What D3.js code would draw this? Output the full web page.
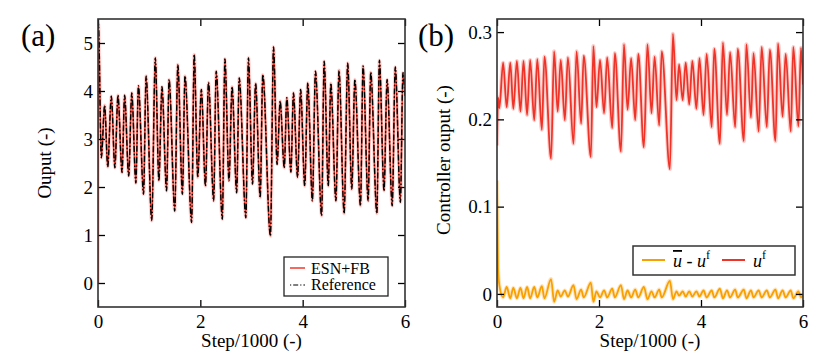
<!DOCTYPE html>
<html><head><meta charset="utf-8">
<script src="https://cdn.jsdelivr.net/npm/d3@7"></script>
<style>
body{margin:0;background:#fff}
svg{display:block}
</style>
</head><body>
<svg id="c" width="830" height="361"></svg>
<script>
// ---------- data ----------
const xTicks = [0, 2, 4, 6];
const yTicksA = [0, 1, 2, 3, 4, 5];
const yTicksB = [0, 0.1, 0.2, 0.3];

// panel (a): time (step/1000) of extrema, ESN+FB output and reference
const outT = [0, 0.008, 0.065, 0.13, 0.19, 0.26, 0.33, 0.39, 0.47, 0.52, 0.60, 0.66, 0.74, 0.79, 0.89, 0.94,
  1.05, 1.12, 1.19, 1.25, 1.34, 1.39, 1.50, 1.56, 1.65, 1.70, 1.83, 1.88, 1.95,
  2.02, 2.10, 2.16, 2.26, 2.31, 2.43, 2.48, 2.56, 2.62, 2.71, 2.76, 2.89, 2.94,
  3.02, 3.08, 3.17, 3.22, 3.37, 3.43, 3.50, 3.56, 3.64, 3.69, 3.77, 3.82, 3.90, 3.96,
  4.04, 4.10, 4.19, 4.25, 4.37, 4.42, 4.50, 4.55, 4.65, 4.71, 4.81, 4.88, 4.96,
  5.02, 5.13, 5.18, 5.28, 5.33, 5.45, 5.50, 5.59, 5.65, 5.75, 5.81, 5.91, 5.96, 6.00];
const esnV = [0, 5.4, 2.61, 3.70, 2.42, 3.89, 2.40, 3.91, 2.30, 3.91, 2.23, 3.96, 2.08, 4.11, 1.85, 4.31,
  1.30, 4.69, 2.13, 4.09, 1.92, 4.24, 1.50, 4.55, 1.85, 4.31, 1.26, 4.76, 2.20,
  4.03, 2.02, 4.18, 1.71, 4.41, 1.33, 4.67, 2.13, 4.09, 1.88, 4.27, 1.36, 4.69,
  2.06, 4.16, 1.78, 4.34, 0.98, 4.92, 2.47, 3.79, 2.40, 3.86, 2.31, 3.96, 2.20, 4.03,
  2.02, 4.17, 1.71, 4.41, 1.40, 4.62, 2.02, 4.16, 1.71, 4.43, 1.45, 4.58, 1.95,
  4.24, 1.61, 4.52, 1.71, 4.39, 1.45, 4.64, 1.92, 4.24, 1.61, 4.50, 1.68, 4.38, 3.90];
const refV = [5.3, 5.4, 2.61, 3.70, 2.42, 3.89, 2.40, 3.91, 2.30, 3.91, 2.23, 3.96, 2.08, 4.11, 1.85, 4.31,
  1.30, 4.69, 2.13, 4.09, 1.92, 4.24, 1.50, 4.55, 1.85, 4.31, 1.26, 4.76, 2.20,
  4.03, 2.02, 4.18, 1.71, 4.41, 1.33, 4.67, 2.13, 4.09, 1.88, 4.27, 1.36, 4.69,
  2.06, 4.16, 1.78, 4.34, 0.98, 4.92, 2.47, 3.79, 2.40, 3.86, 2.31, 3.96, 2.20, 4.03,
  2.02, 4.17, 1.71, 4.41, 1.40, 4.62, 2.02, 4.16, 1.71, 4.43, 1.45, 4.58, 1.95,
  4.24, 1.61, 4.52, 1.71, 4.39, 1.45, 4.64, 1.92, 4.24, 1.61, 4.50, 1.68, 4.38, 3.90];

// panel (b): time of extrema, u^f and (u-bar - u^f)
const ctrlT = [0, 0.02, 0.046, 0.12, 0.19, 0.26, 0.32, 0.39, 0.46, 0.52, 0.59, 0.65, 0.73, 0.79, 0.88, 0.93,
  1.06, 1.12, 1.19, 1.25, 1.33, 1.39, 1.50, 1.56, 1.65, 1.70, 1.84, 1.89, 1.95,
  2.02, 2.10, 2.16, 2.26, 2.31, 2.43, 2.49, 2.56, 2.63, 2.71, 2.77, 2.88, 2.95,
  3.03, 3.09, 3.18, 3.23, 3.39, 3.45, 3.52, 3.57, 3.64, 3.70, 3.77, 3.83, 3.91, 3.97,
  4.05, 4.11, 4.21, 4.26, 4.37, 4.43, 4.51, 4.57, 4.67, 4.72, 4.84, 4.89, 4.98,
  5.03, 5.13, 5.19, 5.29, 5.35, 5.46, 5.51, 5.60, 5.66, 5.76, 5.81, 5.91, 5.96, 6.0];
const ufV = [0.17, 0.225, 0.213, 0.265, 0.214, 0.265, 0.212, 0.267, 0.209, 0.267, 0.205, 0.268, 0.199, 0.269, 0.188, 0.272,
  0.155, 0.278, 0.209, 0.268, 0.199, 0.271, 0.172, 0.278, 0.195, 0.273, 0.157, 0.284, 0.214,
  0.268, 0.207, 0.271, 0.190, 0.276, 0.163, 0.286, 0.211, 0.270, 0.199, 0.275, 0.168, 0.286,
  0.207, 0.272, 0.193, 0.278, 0.143, 0.298, 0.222, 0.263, 0.222, 0.265, 0.217, 0.267, 0.212, 0.270,
  0.205, 0.275, 0.191, 0.281, 0.172, 0.288, 0.205, 0.277, 0.191, 0.281, 0.175, 0.286, 0.202,
  0.276, 0.186, 0.283, 0.191, 0.280, 0.175, 0.287, 0.203, 0.275, 0.186, 0.283, 0.192, 0.282, 0.24];
const diffV = [0.13, 0.03, 0.01, -0.004, 0.008, -0.005, 0.007, -0.005, 0.007, -0.005, 0.008, -0.005, 0.008, -0.004, 0.009, -0.005,
  0.017, -0.009, 0.004, -0.003, 0.004, -0.003, 0.010, -0.006, 0.005, -0.004, 0.013, -0.009, 0.003,
  -0.004, 0.004, -0.004, 0.006, -0.004, 0.010, -0.006, 0.004, -0.004, 0.005, -0.004, 0.008, -0.006,
  0.003, -0.004, 0.005, -0.004, 0.015, -0.006, 0.003, -0.002, 0.003, -0.003, 0.003, -0.003, 0.003, -0.003,
  0.004, -0.004, 0.004, -0.004, 0.006, -0.005, 0.004, -0.004, 0.005, -0.004, 0.005, -0.005, 0.004,
  -0.004, 0.004, -0.004, 0.004, -0.004, 0.005, -0.005, 0.004, -0.004, 0.004, -0.005, 0.003, -0.004, 0.0];

// ---------- drawing ----------
const svg = d3.select('#c');
const FONT = '"Liberation Serif", "Times New Roman", Times, serif';
const TOP = 19, BOTTOM = 307;

function panel(id, left, right, yDomain, yTicks, yFmt) {
  const x = d3.scaleLinear().domain([0, 6]).range([left, right]);
  const y = d3.scaleLinear().domain(yDomain).range([BOTTOM, TOP]);
  const g = svg.append('g');
  g.append('clipPath').attr('id', 'clip' + id).append('rect')
    .attr('x', left).attr('y', TOP).attr('width', right - left).attr('height', BOTTOM - TOP);
  const plot = g.append('g').attr('clip-path', `url(#clip${id})`);

  const ax = (sel) => sel.attr('font-size', 19)
    .call(s => s.select('.domain').remove())
    .call(s => s.selectAll('line').attr('stroke', '#000').attr('stroke-width', 1.3));
  g.append('g').attr('transform', `translate(0,${BOTTOM})`)
    .call(d3.axisBottom(x).tickValues(xTicks).tickSize(-7).tickPadding(8).tickFormat(d3.format('d'))).call(ax);
  g.append('g').attr('transform', `translate(0,${TOP})`)
    .call(d3.axisTop(x).tickValues(xTicks).tickSize(-7).tickFormat('')).call(ax);
  g.append('g').attr('transform', `translate(${left},0)`)
    .call(d3.axisLeft(y).tickValues(yTicks).tickSize(-7).tickPadding(5).tickFormat(yFmt)).call(ax);
  g.append('g').attr('transform', `translate(${right},0)`)
    .call(d3.axisRight(y).tickValues(yTicks).tickSize(-7).tickFormat('')).call(ax);
  return {x, y, g, plot};
}

// Panel (a)
const A = panel('a', 98, 405, [-0.5, 5.5], yTicksA, d3.format('d'));
const lineA = (vals) => d3.line().x((d, i) => A.x(outT[i])).y(d => A.y(d)).curve(d3.curveMonotoneX)(vals);
A.plot.append('path').attr('d', lineA(esnV)).attr('fill', 'none')
  .attr('stroke', 'rgba(255,120,110,0.3)').attr('stroke-width', 3.6);
A.plot.append('path').attr('d', lineA(esnV)).attr('fill', 'none')
  .attr('stroke', '#f0392b').attr('stroke-width', 1.6);
A.plot.append('path').attr('d', lineA(refV)).attr('fill', 'none')
  .attr('stroke', '#000').attr('stroke-width', 1.4).attr('stroke-dasharray', '6,2,1.5,2');

// Panel (b)
const B = panel('b', 497, 803, [-0.015, 0.315], yTicksB, d => d === 0 ? '0' : d3.format('.1f')(d));
const lineB = (vals) => d3.line().x((d, i) => B.x(ctrlT[i])).y(d => B.y(d)).curve(d3.curveMonotoneX)(vals);
B.plot.append('path').attr('d', lineB(ufV)).attr('fill', 'none')
  .attr('stroke', 'rgba(245,90,80,0.3)').attr('stroke-width', 4);
B.plot.append('path').attr('d', lineB(ufV)).attr('fill', 'none')
  .attr('stroke', '#ee3328').attr('stroke-width', 1.8);
B.plot.append('path').attr('d', lineB(diffV)).attr('fill', 'none')
  .attr('stroke', 'rgba(255,175,60,0.35)').attr('stroke-width', 4);
B.plot.append('path').attr('d', lineB(diffV)).attr('fill', 'none')
  .attr('stroke', '#f7a000').attr('stroke-width', 1.8);

// frames
[[98, 405], [497, 803]].forEach(([l, r]) => {
  svg.append('rect').attr('x', l).attr('y', TOP).attr('width', r - l).attr('height', BOTTOM - TOP)
    .attr('fill', 'none').attr('stroke', '#333').attr('stroke-width', 1.6);
});

// axis titles
svg.append('text').attr('x', 251.5).attr('y', 347).attr('text-anchor', 'middle').attr('font-size', 19).text('Step/1000 (-)');
svg.append('text').attr('x', 650).attr('y', 347).attr('text-anchor', 'middle').attr('font-size', 19).text('Step/1000 (-)');
svg.append('text').attr('transform', 'translate(51,163) rotate(-90)').attr('text-anchor', 'middle').attr('font-size', 19).text('Ouput (-)');
svg.append('text').attr('transform', 'translate(450,160) rotate(-90)').attr('text-anchor', 'middle').attr('font-size', 19).text('Controller ouput (-)');

// panel letters
svg.append('text').attr('x', 21).attr('y', 46).attr('font-size', 31).text('(a)');
svg.append('text').attr('x', 418).attr('y', 46).attr('font-size', 31).text('(b)');

// legend (a)
const LA = svg.append('g');
LA.append('rect').attr('x', 284).attr('y', 257).attr('width', 104).attr('height', 39)
  .attr('fill', '#fff').attr('stroke', '#222').attr('stroke-width', 1.3);
LA.append('line').attr('x1', 290).attr('x2', 305).attr('y1', 268).attr('y2', 268).attr('stroke', '#f0392b').attr('stroke-width', 1.5);
LA.append('line').attr('x1', 290).attr('x2', 305).attr('y1', 285).attr('y2', 285).attr('stroke', '#000').attr('stroke-width', 1.2).attr('stroke-dasharray', '1.2,2,5,2');
LA.append('text').attr('x', 311).attr('y', 274).attr('font-size', 16).text('ESN+FB');
LA.append('text').attr('x', 311).attr('y', 290).attr('font-size', 16).text('Reference');

// legend (b)
const LB = svg.append('g');
LB.append('rect').attr('x', 633).attr('y', 246).attr('width', 162).attr('height', 29)
  .attr('fill', '#fff').attr('stroke', '#333').attr('stroke-width', 1.5);
LB.append('line').attr('x1', 642).attr('x2', 665).attr('y1', 260).attr('y2', 260).attr('stroke', '#f7a000').attr('stroke-width', 2);
LB.append('line').attr('x1', 722).attr('x2', 745).attr('y1', 260).attr('y2', 260).attr('stroke', '#ee3328').attr('stroke-width', 2);
const t1 = LB.append('text').attr('x', 673).attr('y', 267).attr('font-size', 18);
t1.append('tspan').attr('font-style', 'italic').style('text-decoration', 'overline').text('u');
t1.append('tspan').text(' - ');
t1.append('tspan').attr('font-style', 'italic').text('u');
t1.append('tspan').attr('dy', -8).attr('font-size', 12).text('f');
const t2 = LB.append('text').attr('x', 753).attr('y', 267).attr('font-size', 18);
t2.append('tspan').attr('font-style', 'italic').text('u');
t2.append('tspan').attr('dy', -8).attr('font-size', 12).text('f');

// force serif font and black fill on every text
svg.selectAll('text').style('font-family', FONT).style('fill', '#000');
</script>
</body></html>
